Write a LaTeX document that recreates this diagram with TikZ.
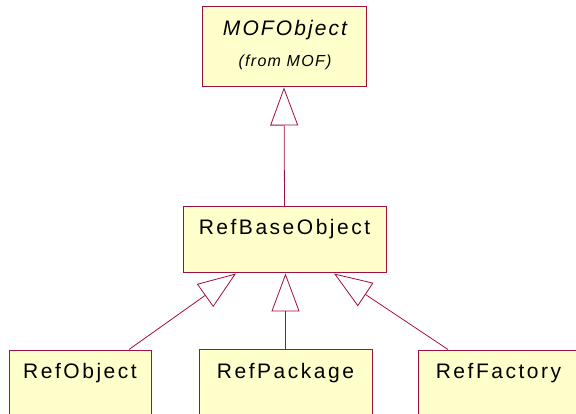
\documentclass[tikz,border=0pt]{standalone}
\usepackage{fontspec}
\setmainfont{Liberation Sans}
\usetikzlibrary{arrows.meta}
\definecolor{umlline}{HTML}{A0103C}
\definecolor{umlfill}{HTML}{FFFFCC}
\begin{document}
\begin{tikzpicture}[x=1pt,y=-1pt,
  classbox/.style={draw=umlline,fill=umlfill,line width=1pt,inner sep=0pt,anchor=center},
  classname/.style={anchor=base,inner sep=0pt,font=\fontsize{21}{25}\selectfont\addfontfeature{LetterSpace=12}},
  fromtext/.style={anchor=base,inner sep=0pt,font=\fontsize{16}{19}\selectfont\itshape\addfontfeature{LetterSpace=8}},
  gen/.style={draw=umlline,line width=0.8pt,-{Triangle[open,length=38pt,width=28pt]}}]
\useasboundingbox (0,0) rectangle (576,414);
\clip (0,0) rectangle (576,414);
\fill[white] (0,0) rectangle (576,414);
% boxes
\node[classbox,minimum width=164pt,minimum height=80pt] (mof) at (284,47) {};
\node[classbox,minimum width=203pt,minimum height=66pt] (base) at (284.5,240) {};
\node[classbox,minimum width=142pt,minimum height=66pt] (obj) at (80,383) {};
\node[classbox,minimum width=173pt,minimum height=66pt] (pkg) at (285.5,382) {};
\node[classbox,minimum width=161pt,minimum height=66pt] (fac) at (498.5,383) {};
% texts
\node[classname,font=\fontsize{21}{25}\selectfont\itshape\addfontfeature{LetterSpace=10}] (mofname) at (285,36) {MOFObject};
\node[fromtext] (moffrom) at (285,67) {(from MOF)};
\node[classname] (basename) at (284.5,235) {RefBaseObject};
\node[classname] (objname) at (80,378) {RefObject};
\node[classname] (pkgname) at (285.5,378) {RefPackage};
\node[classname] (facname) at (498.5,378) {RefFactory};
% generalizations
\draw[gen] (base.north) -- (mof.south);
\draw[gen] ([xshift=49pt]obj.north) -- ([xshift=-48.5pt]base.south);
\draw[gen] (pkg.north) -- (pkg.north |- base.south);
\draw[gen] ([xshift=-50.5pt]fac.north) -- ([xshift=49.5pt]base.south);
\end{tikzpicture}
\end{document}
